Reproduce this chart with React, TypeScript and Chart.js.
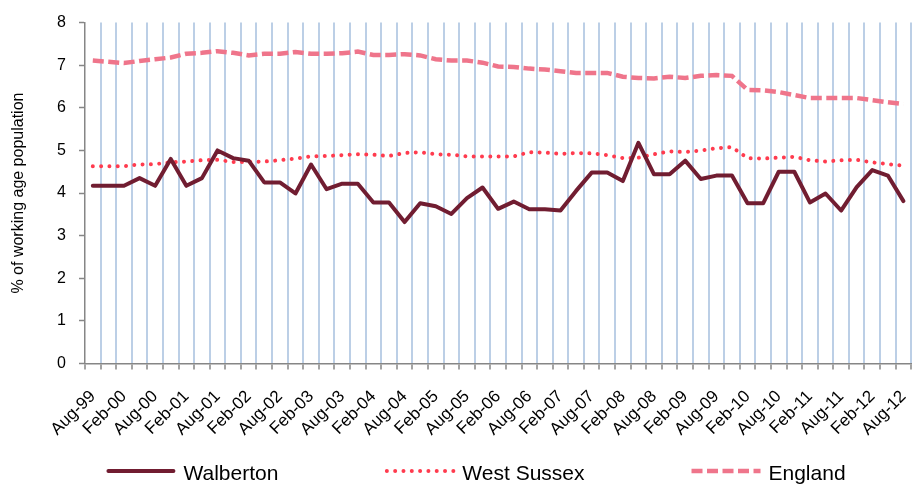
import React, { useEffect, useRef } from 'react';
import { Chart, registerables } from 'chart.js';

Chart.register(...registerables);

const categories = [
  'Aug-99', 'Nov-99', 'Feb-00', 'May-00', 'Aug-00', 'Nov-00', 'Feb-01', 'May-01', 'Aug-01', 'Nov-01',
  'Feb-02', 'May-02', 'Aug-02', 'Nov-02', 'Feb-03', 'May-03', 'Aug-03', 'Nov-03', 'Feb-04', 'May-04',
  'Aug-04', 'Nov-04', 'Feb-05', 'May-05', 'Aug-05', 'Nov-05', 'Feb-06', 'May-06', 'Aug-06', 'Nov-06',
  'Feb-07', 'May-07', 'Aug-07', 'Nov-07', 'Feb-08', 'May-08', 'Aug-08', 'Nov-08', 'Feb-09', 'May-09',
  'Aug-09', 'Nov-09', 'Feb-10', 'May-10', 'Aug-10', 'Nov-10', 'Feb-11', 'May-11', 'Aug-11', 'Nov-11',
  'Feb-12', 'May-12', 'Aug-12',
];

const tickLabels = [
  'Aug-99', 'Feb-00', 'Aug-00', 'Feb-01', 'Aug-01', 'Feb-02', 'Aug-02', 'Feb-03', 'Aug-03', 'Feb-04',
  'Aug-04', 'Feb-05', 'Aug-05', 'Feb-06', 'Aug-06', 'Feb-07', 'Aug-07', 'Feb-08', 'Aug-08', 'Feb-09',
  'Aug-09', 'Feb-10', 'Aug-10', 'Feb-11', 'Aug-11', 'Feb-12', 'Aug-12',
];

const walberton = [
  4.17, 4.17, 4.17, 4.35, 4.17, 4.80, 4.17, 4.35, 5.00, 4.82,
  4.76, 4.25, 4.25, 3.99, 4.67, 4.09, 4.22, 4.22, 3.78, 3.78,
  3.32, 3.76, 3.69, 3.51, 3.88, 4.13, 3.63, 3.80, 3.62, 3.62,
  3.59, 4.05, 4.48, 4.48, 4.28, 5.18, 4.44, 4.44, 4.76, 4.33,
  4.41, 4.41, 3.76, 3.76, 4.50, 4.50, 3.78, 3.99, 3.59, 4.14,
  4.54, 4.41, 3.81,
];

const westSussex = [
  4.63, 4.63, 4.63, 4.67, 4.68, 4.72, 4.74, 4.77, 4.78, 4.73,
  4.73, 4.74, 4.77, 4.81, 4.86, 4.87, 4.89, 4.91, 4.90, 4.87,
  4.94, 4.96, 4.91, 4.90, 4.86, 4.86, 4.86, 4.86, 4.96, 4.95,
  4.92, 4.94, 4.93, 4.89, 4.82, 4.83, 4.91, 4.98, 4.96, 5.00,
  5.05, 5.08, 4.82, 4.81, 4.83, 4.85, 4.77, 4.74, 4.77, 4.78,
  4.72, 4.68, 4.64,
];

const england = [
  7.11, 7.08, 7.05, 7.10, 7.14, 7.18, 7.27, 7.29, 7.33, 7.29,
  7.23, 7.27, 7.27, 7.31, 7.27, 7.27, 7.28, 7.32, 7.24, 7.24,
  7.26, 7.23, 7.14, 7.11, 7.11, 7.06, 6.97, 6.96, 6.92, 6.90,
  6.86, 6.82, 6.82, 6.82, 6.73, 6.70, 6.69, 6.73, 6.70, 6.75,
  6.77, 6.75, 6.42, 6.41, 6.37, 6.30, 6.23, 6.23, 6.23, 6.23,
  6.18, 6.13, 6.09,
];

const yTicks = [0, 1, 2, 3, 4, 5, 6, 7, 8];
const yTitle = '% of working age population';

const FONT = '"Liberation Sans", Arial, Helvetica, sans-serif';

const bottomLegend = {
  id: 'bottomLegend',
  afterDraw(chart: any) {
    const ctx = chart.ctx as CanvasRenderingContext2D;
    ctx.save();
    ctx.font = `21px ${FONT}`;
    const lineW = 69;
    const gap = 8;
    const spacing = 107;
    const items = chart.data.datasets.map((ds: any) => ({ ds, tw: ctx.measureText(ds.label).width }));
    const total = items.reduce((s: number, it: any) => s + lineW + gap + it.tw, 0) + spacing * (items.length - 1);
    let x = 476 - total / 2;
    const yLine = 471;
    const yText = 480;
    items.forEach(({ ds, tw }: any) => {
      const cap = ds.borderCapStyle || 'butt';
      const dashed = ds.borderDash && ds.borderDash.length;
      const inset = cap === 'round' && !dashed ? ds.borderWidth / 2 : 0;
      ctx.beginPath();
      ctx.strokeStyle = ds.borderColor;
      ctx.lineWidth = ds.borderWidth;
      ctx.lineCap = cap;
      ctx.setLineDash(ds.borderDash || []);
      ctx.moveTo(x + inset + (dashed && cap === 'round' ? 1.5 : 0), yLine);
      ctx.lineTo(x + lineW - inset, yLine);
      ctx.stroke();
      ctx.setLineDash([]);
      ctx.fillStyle = '#000';
      ctx.textBaseline = 'alphabetic';
      ctx.textAlign = 'left';
      ctx.fillText(ds.label, x + lineW + gap, yText);
      x += lineW + gap + tw + spacing;
    });
    ctx.restore();
  },
};

export default function App() {
  const ref = useRef<HTMLCanvasElement | null>(null);

  useEffect(() => {
    if (!ref.current) return;
    const chart = new Chart(ref.current, {
      type: 'line',
      data: {
        labels: categories,
        datasets: [
          {
            label: 'Walberton',
            data: walberton,
            borderColor: '#711d31',
            backgroundColor: '#711d31',
            borderWidth: 4,
            borderJoinStyle: 'round',
            borderCapStyle: 'round',
            pointRadius: 0,
            tension: 0,
          },
          {
            label: 'West Sussex',
            data: westSussex,
            borderColor: '#ff3b4e',
            backgroundColor: '#ff3b4e',
            borderWidth: 4,
            borderDash: [0.01, 8.3],
            borderCapStyle: 'round',
            pointRadius: 0,
            tension: 0,
          },
          {
            label: 'England',
            data: england,
            borderColor: '#ef758b',
            backgroundColor: '#ef758b',
            borderWidth: 4.5,
            borderDash: [11, 4.5],
            borderCapStyle: 'butt',
            pointRadius: 0,
            tension: 0,
          },
        ],
      } as any,
      options: {
        animation: false,
        responsive: false,
        maintainAspectRatio: false,
        layout: { padding: { left: 0, right: 14, top: 15, bottom: 40 } },
        plugins: {
          legend: { display: false },
          tooltip: { enabled: false },
        },
        scales: {
          x: {
            type: 'category',
            offset: true,
            grid: {
              offset: true,
              color: (c: any) => (c.index === 0 ? 'rgba(0,0,0,0)' : '#bccfe6'),
              lineWidth: 2,
              tickColor: '#868686',
              tickLength: 6,
              tickWidth: 1.5,
            },
            border: { color: '#868686', width: 1.5 },
            ticks: {
              autoSkip: false,
              maxRotation: 45,
              minRotation: 45,
              color: '#000',
              padding: 17,
              font: { size: 17, family: FONT },
              callback: (_v: any, i: number) => (tickLabels.includes(categories[i]) ? categories[i] : ''),
            },
            afterFit: (s: any) => {
              s.height = 84.5;
            },
          },
          y: {
            min: yTicks[0],
            max: yTicks[yTicks.length - 1],
            afterBuildTicks: (s: any) => {
              s.ticks = yTicks.map((v) => ({ value: v }));
            },
            ticks: {
              color: '#000',
              padding: 13,
              font: { size: 16, family: FONT },
            },
            grid: {
              drawOnChartArea: false,
              tickLength: 6,
              tickColor: '#868686',
              tickWidth: 1.5,
            },
            border: { color: '#868686', width: 1.5 },
            title: {
              display: true,
              text: yTitle,
              color: '#000',
              font: { size: 16, family: FONT },
              padding: { top: 9, bottom: 0 },
            },
            afterFit: (s: any) => {
              s.width = 85;
            },
          },
        },
      } as any,
      plugins: [bottomLegend],
    });
    return () => chart.destroy();
  }, []);

  return (
    <div
      style={{
        position: 'fixed',
        left: 0,
        top: 0,
        width: 919,
        height: 488,
        overflow: 'hidden',
        background: '#fff',
      }}
    >
      <canvas ref={ref} width={935} height={488} style={{ display: 'block', width: 935, height: 488 }} />
    </div>
  );
}
